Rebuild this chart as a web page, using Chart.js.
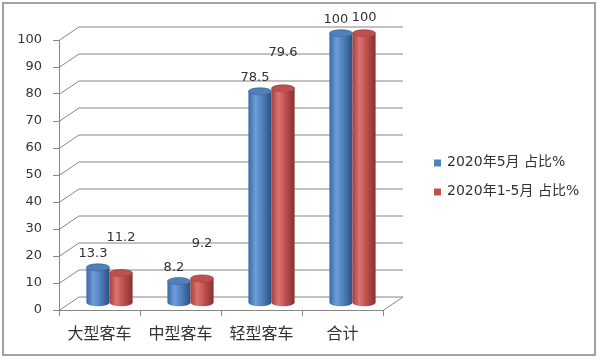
<!DOCTYPE html>
<html>
<head>
<meta charset="utf-8">
<script src="https://cdn.jsdelivr.net/npm/chart.js@4/dist/chart.umd.min.js"></script>
<style>
html, body { margin: 0; padding: 0; background: #fff; }
</style>
</head>
<body>
<canvas id="chart" width="600" height="360"></canvas>
<script>
// chart data
var categories = ['大型客车', '中型客车', '轻型客车', '合计'];
var may2020 = [13.3, 8.2, 78.5, 100];
var janToMay2020 = [11.2, 9.2, 79.6, 100];
var seriesNames = ['2020年5月 占比%', '2020年1-5月 占比%'];
var yTicks = [0, 10, 20, 30, 40, 50, 60, 70, 80, 90, 100];

// 3D depth of the plot box
var DX = 20, DY = -13.5;
var gridColor = '#868686';
var textColor = '#333333';

var cylColors = [
    { edge: '#3c67a0', light: '#6d9ddb', main: '#4f81bd', dark: '#2c4f80' },
    { edge: '#a6413e', light: '#dc7370', main: '#c0504d', dark: '#853130' }
];

// back wall and floor lines
var wallPlugin = {
    id: 'wall',
    beforeDatasetsDraw: function (chart) {
        var ctx = chart.ctx, a = chart.chartArea, y = chart.scales.y;
        ctx.save();
        ctx.strokeStyle = gridColor;
        ctx.lineWidth = 1;
        y.ticks.forEach(function (t) {
            var py = Math.round(y.getPixelForValue(t.value)) + 0.5;
            ctx.beginPath();
            ctx.moveTo(a.left, py);
            ctx.lineTo(a.left + DX, py + DY);
            ctx.lineTo(a.right + DX, py + DY);
            ctx.stroke();
        });
        var p0 = Math.round(y.getPixelForValue(0)) + 0.5;
        ctx.beginPath();
        ctx.moveTo(a.right, p0);
        ctx.lineTo(a.right + DX, p0 + DY);
        ctx.stroke();
        ctx.restore();
    }
};

function drawCylinder(ctx, bar, c) {
    var w = bar.width;
    var l = bar.x - w / 2 + DX / 2, r = bar.x + w / 2 + DX / 2;
    var top = bar.y + DY / 2, bot = bar.base + DY / 2;
    var cx = (l + r) / 2, rx = w / 2, ry = 3.5;
    var g = ctx.createLinearGradient(l, 0, r, 0);
    g.addColorStop(0, c.edge);
    g.addColorStop(0.3, c.light);
    g.addColorStop(0.6, c.main);
    g.addColorStop(1, c.dark);
    ctx.beginPath();
    ctx.moveTo(l, top);
    ctx.lineTo(l, bot);
    ctx.ellipse(cx, bot, rx, ry, 0, Math.PI, 0, true);
    ctx.lineTo(r, top);
    ctx.ellipse(cx, top, rx, ry, 0, 0, Math.PI, false);
    ctx.closePath();
    ctx.fillStyle = g;
    ctx.fill();
    // top face
    ctx.beginPath();
    ctx.ellipse(cx, top, rx, ry, 0, 0, Math.PI * 2);
    ctx.fillStyle = c.main;
    ctx.fill();
    ctx.strokeStyle = c.dark;
    ctx.lineWidth = 0.6;
    ctx.stroke();
}

// cylinders + value labels
var cylinderPlugin = {
    id: 'cylinders',
    beforeDatasetDraw: function () {
        return false;
    },
    afterDatasetsDraw: function (chart) {
        var ctx = chart.ctx, a = chart.chartArea;
        ctx.save();
        chart.data.datasets.forEach(function (ds, i) {
            chart.getDatasetMeta(i).data.forEach(function (bar) {
                drawCylinder(ctx, bar, cylColors[i]);
            });
        });
        ctx.font = '13px "DejaVu Sans"';
        ctx.fillStyle = textColor;
        ctx.textAlign = 'center';
        ctx.textBaseline = 'middle';
        chart.data.datasets.forEach(function (ds, i) {
            chart.getDatasetMeta(i).data.forEach(function (bar, j) {
                var lx, ly;
                if (i === 0) {
                    lx = bar.x + 5;
                    ly = bar.y - 20;
                } else {
                    lx = bar.x + DX / 2;
                    ly = Math.max(bar.y - 42, a.top - 22);
                }
                ctx.fillText(String(ds.data[j]), lx, ly);
            });
        });
        ctx.restore();
    }
};

// legend on the right + outer frame
var legendPlugin = {
    id: 'sideLegend',
    afterDraw: function (chart) {
        var ctx = chart.ctx, a = chart.chartArea;
        var x = a.right + 51;
        var mid = (a.top + a.bottom) / 2 + 2;
        ctx.save();
        ctx.font = '14px "DejaVu Sans", "Noto Sans CJK SC"';
        ctx.textBaseline = 'middle';
        ctx.textAlign = 'left';
        chart.data.datasets.forEach(function (ds, i) {
            var yy = mid + (i - 0.5) * 29;
            ctx.fillStyle = ds.backgroundColor;
            ctx.fillRect(x, yy - 3, 7, 7);
            ctx.fillStyle = textColor;
            ctx.fillText(ds.label, x + 13, yy);
        });
        ctx.strokeStyle = '#a0a0a0';
        ctx.lineWidth = 2;
        ctx.strokeRect(3, 3, 592, 352);
        ctx.restore();
    }
};

new Chart(document.getElementById('chart').getContext('2d'), {
    type: 'bar',
    data: {
        labels: categories,
        datasets: [
            { label: seriesNames[0], data: may2020, backgroundColor: '#4f81bd' },
            { label: seriesNames[1], data: janToMay2020, backgroundColor: '#c0504d' }
        ]
    },
    options: {
        responsive: false,
        animation: false,
        layout: { padding: { left: 0, top: 40, right: 217, bottom: 0 } },
        categoryPercentage: 0.57,
        barPercentage: 1.0,
        plugins: {
            legend: { display: false },
            tooltip: { enabled: false }
        },
        scales: {
            x: {
                grid: { drawOnChartArea: false, tickLength: 6, color: gridColor, offset: true },
                border: { color: gridColor },
                ticks: {
                    color: textColor,
                    padding: 7,
                    font: { family: '"Noto Sans CJK SC"', size: 16 }
                },
                afterFit: function (scale) { scale.height = 50; }
            },
            y: {
                min: 0,
                max: 100,
                afterBuildTicks: function (scale) {
                    scale.ticks = yTicks.map(function (v) { return { value: v }; });
                },
                grid: { drawOnChartArea: false, tickLength: 6, color: gridColor },
                border: { color: gridColor },
                ticks: {
                    color: textColor,
                    padding: 11,
                    font: { family: '"DejaVu Sans"', size: 13 }
                },
                afterFit: function (scale) { scale.width = 59; }
            }
        }
    },
    plugins: [wallPlugin, cylinderPlugin, legendPlugin]
});
</script>
</body>
</html>
